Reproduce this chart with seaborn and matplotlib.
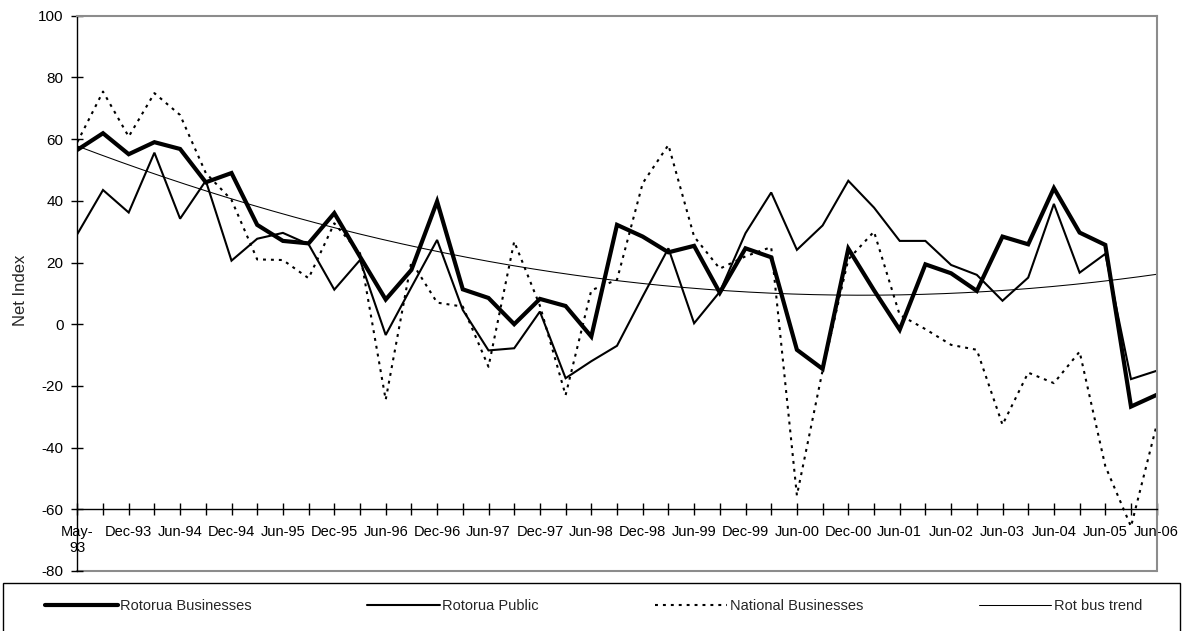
import numpy as np
import pandas as pd
import matplotlib
matplotlib.use("Agg")
import matplotlib.pyplot as plt
from matplotlib.patches import Rectangle
import seaborn as sns

# ---------------- data ----------------
categories = ["May-93", "Sep-93", "Dec-93", "Mar-94", "Jun-94", "Sep-94", "Dec-94", "Mar-95",
              "Jun-95", "Sep-95", "Dec-95", "Mar-96", "Jun-96", "Sep-96", "Dec-96", "Mar-97",
              "Jun-97", "Sep-97", "Dec-97", "Mar-98", "Jun-98", "Sep-98", "Dec-98", "Mar-99",
              "Jun-99", "Sep-99", "Dec-99", "Mar-00", "Jun-00", "Sep-00", "Dec-00", "Mar-01",
              "Jun-01", "Dec-01", "Jun-02", "Dec-02", "Jun-03", "Dec-03", "Jun-04", "Dec-04",
              "Jun-05", "Dec-05", "Jun-06"]

rotorua_businesses = [56.5, 61.9, 55.1, 59.0, 56.8, 46.0, 49.0, 32.2, 27.0, 26.2,
                      36.0, 21.9, 8.0, 17.6, 39.8, 11.3, 8.5, 0.0, 8.2, 5.9,
                      -4.0, 32.2, 28.4, 23.3, 25.4, 10.2, 24.6, 21.7, -8.3, -14.5,
                      24.5, 11.0, -1.8, 19.4, 16.5, 10.8, 28.4, 25.9, 44.1, 29.7,
                      25.7, -26.7, -22.9]

rotorua_public = [29.2, 43.5, 36.2, 55.6, 34.2, 46.5, 20.6, 27.7, 29.6, 25.9,
                  11.2, 20.8, -3.5, 12.0, 27.3, 4.6, -8.5, -7.8, 4.1, -17.5,
                  -12.0, -7.0, 9.0, 24.6, 0.3, 10.5, 29.5, 42.7, 24.1, 32.0,
                  46.5, 37.8, 27.0, 27.0, 19.2, 16.0, 7.6, 15.1, 39.0, 16.7,
                  22.8, -17.8, -15.1]

national_businesses = [59.0, 75.4, 60.8, 74.9, 67.8, 49.0, 40.3, 21.0, 20.8, 14.9,
                       32.7, 23.0, -24.5, 20.3, 7.0, 5.7, -13.8, 26.8, 6.0, -23.0,
                       11.0, 14.4, 45.7, 58.1, 28.4, 18.0, 22.0, 25.0, -55.5, -15.0,
                       21.0, 30.0, 3.0, -1.6, -6.7, -8.3, -32.6, -15.7, -19.1, -8.9,
                       -46.0, -65.6, -32.6]

series_names = ["Rotorua Businesses", "Rotorua Public", "National Businesses", "Rot bus trend"]
y_ticks = [-80, -60, -40, -20, 0, 20, 40, 60, 80, 100]

# ---------------- style ----------------
sns.set_theme(style="white")
plt.rcParams["font.family"] = ["Liberation Sans", "DejaVu Sans"]

W, H = 1185, 631
fig = plt.figure(figsize=(W / 100, H / 100), dpi=100)
x0, x1, ytop, ybot = 77.3, 1156.7, 15.7, 571.0
ax = fig.add_axes([x0 / W, 1 - ybot / H, (x1 - x0) / W, (ybot - ytop) / H])

idx = np.arange(len(categories))
df = pd.DataFrame({
    "idx": idx,
    series_names[0]: rotorua_businesses,
    series_names[1]: rotorua_public,
    series_names[2]: national_businesses,
})

# polynomial (order 2) trendline of Rotorua Businesses, as in the original chart
coef = np.polyfit(idx, np.array(rotorua_businesses), 2)
xt = np.linspace(0, len(categories) - 1, 300)
trend = pd.DataFrame({"idx": xt, "v": np.polyval(coef, xt)})

sns.lineplot(data=df, x="idx", y=series_names[0], ax=ax, color="black", linewidth=3.0,
             label=series_names[0], solid_joinstyle="miter")
sns.lineplot(data=df, x="idx", y=series_names[1], ax=ax, color="black", linewidth=1.5,
             label=series_names[1], solid_joinstyle="miter")
sns.lineplot(data=df, x="idx", y=series_names[2], ax=ax, color="black", linewidth=1.5,
             linestyle=(0, (1.4, 2.4)), label=series_names[2])
sns.lineplot(data=trend, x="idx", y="v", ax=ax, color="black", linewidth=0.75,
             label=series_names[3])

handles, labels = ax.get_legend_handles_labels()
ax.get_legend().remove()

ax.set_xlim(0, len(categories) - 1)
ax.set_ylim(-80, 100)

# axes look (Excel-like)
border = "#8c8c8c"
for s in ["top", "right"]:
    ax.spines[s].set_color(border)
    ax.spines[s].set_linewidth(1.5)
ax.spines["bottom"].set_position(("data", -60))
ax.spines["bottom"].set_color("black")
ax.spines["bottom"].set_linewidth(1.0)
ax.spines["left"].set_color("black")
ax.spines["left"].set_linewidth(1.0)
ax.axhline(-80, color=border, linewidth=1.5, clip_on=False, zorder=0)

ax.set_xticks(idx)
xlabels = [c if i % 2 == 0 else "" for i, c in enumerate(categories)]
xlabels[0] = xlabels[0].replace("-", "-\n")
ax.set_xticklabels(xlabels)
ax.set_yticks(y_ticks)
ax.set_yticklabels([str(v) for v in y_ticks])
ax.tick_params(axis="both", which="major", bottom=True, left=True, top=False, right=False,
               direction="inout", length=8, width=1, color="black", labelcolor="black")
ax.tick_params(axis="x", labelsize=10.5, pad=7)
ax.tick_params(axis="y", labelsize=11, pad=6)

ax.set_xlabel("")
ax.set_ylabel("Net Index", fontsize=12)
ax.yaxis.set_label_coords(-0.046, 0.505)

# legend box
fig.patches.append(Rectangle((3 / W, -0.05), 1177 / W, 0.05 + (1 - 583 / H),
                             transform=fig.transFigure, fill=False, edgecolor="black",
                             linewidth=1.0))
fig.legend(handles, labels, loc="center left",
           bbox_to_anchor=(45 / W, 1 - 606 / H, (1142 - 45) / W, 0),
           mode="expand", ncol=4, frameon=False, borderpad=0, borderaxespad=0,
           handlelength=5.0, handletextpad=0.15, fontsize=10.5)

fig.savefig("out.png", dpi=100)
